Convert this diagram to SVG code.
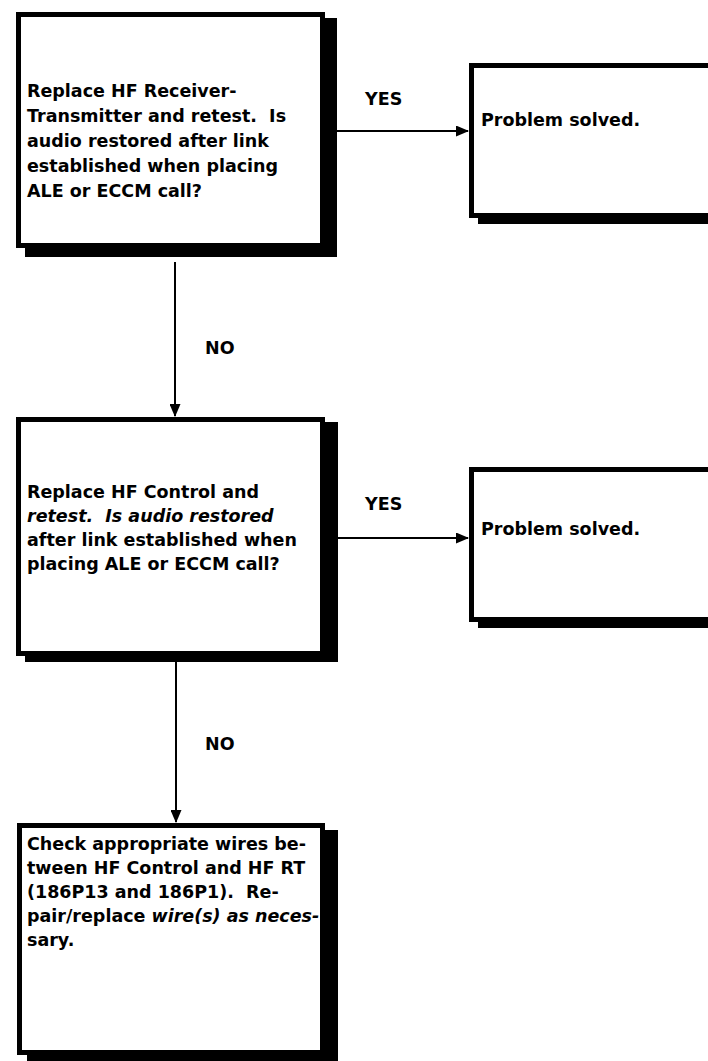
<svg xmlns="http://www.w3.org/2000/svg" width="708" height="1061" viewBox="0 0 708 1061">
<style>
.shadow{fill:#000}
.box{fill:#fff;stroke:#000;stroke-width:5}
.t{font-family:"DejaVu Sans","Liberation Sans",sans-serif;font-weight:bold;font-size:17.5px;fill:#000;white-space:pre}
.i{font-style:italic}
.c{stroke:#000;stroke-width:2;fill:none}
</style>
<defs>
<marker id="ah" markerWidth="13" markerHeight="11" refX="12" refY="5.5" orient="auto" markerUnits="userSpaceOnUse">
<path d="M0,0 L13,5.5 L0,11 Z" fill="#000"/>
</marker>
</defs>
<rect width="708" height="1061" fill="#fff"/>
<g id="node-q1">
<rect class="shadow" x="25" y="18" width="312" height="239"/>
<rect class="box" x="18.5" y="14.5" width="304" height="231"/>
<text class="t" x="27" y="97">Replace HF Receiver-</text>
<text class="t" x="27" y="122" xml:space="preserve">Transmitter and retest.  Is</text>
<text class="t" x="27" y="147">audio restored after link</text>
<text class="t" x="27" y="172">established when placing</text>
<text class="t" x="27" y="197">ALE or ECCM call?</text>
</g>
<g id="node-solved1">
<rect class="shadow" x="478" y="70" width="300" height="154"/>
<rect class="box" x="471.5" y="65.5" width="300" height="150"/>
<text class="t" x="481" y="126">Problem solved.</text>
</g>
<g id="node-q2">
<rect class="shadow" x="25" y="422" width="313" height="240"/>
<rect class="box" x="18.5" y="419.5" width="304" height="234"/>
<text class="t" x="27" y="498">Replace HF Control and</text>
<text class="t i" x="27" y="522" xml:space="preserve">retest.  Is audio restored</text>
<text class="t" x="27" y="546">after link established when</text>
<text class="t" x="27" y="570">placing ALE or ECCM call?</text>
</g>
<g id="node-solved2">
<rect class="shadow" x="478" y="475" width="300" height="153"/>
<rect class="box" x="471.5" y="469.5" width="300" height="150"/>
<text class="t" x="481" y="535">Problem solved.</text>
</g>
<g id="node-check">
<rect class="shadow" x="27" y="830" width="311" height="231"/>
<rect class="box" x="19.5" y="825.5" width="303" height="227"/>
<text class="t" x="27" y="850">Check appropriate wires be-</text>
<text class="t" x="27" y="874">tween HF Control and HF RT</text>
<text class="t" x="27" y="898" xml:space="preserve">(186P13 and 186P1).  Re-</text>
<text class="t" x="27" y="922">pair/replace <tspan class="i">wire(s) as neces-</tspan></text>
<text class="t" x="27" y="946">sary.</text>
</g>
<g id="connectors">
<line class="c" x1="337" y1="131" x2="468" y2="131" marker-end="url(#ah)"/>
<text class="t" x="365" y="105">YES</text>
<line class="c" x1="175" y1="262" x2="175" y2="416" marker-end="url(#ah)"/>
<text class="t" x="205" y="354">NO</text>
<line class="c" x1="338" y1="538" x2="468" y2="538" marker-end="url(#ah)"/>
<text class="t" x="365" y="510">YES</text>
<line class="c" x1="176" y1="662" x2="176" y2="822" marker-end="url(#ah)"/>
<text class="t" x="205" y="750">NO</text>
</g>
</svg>
